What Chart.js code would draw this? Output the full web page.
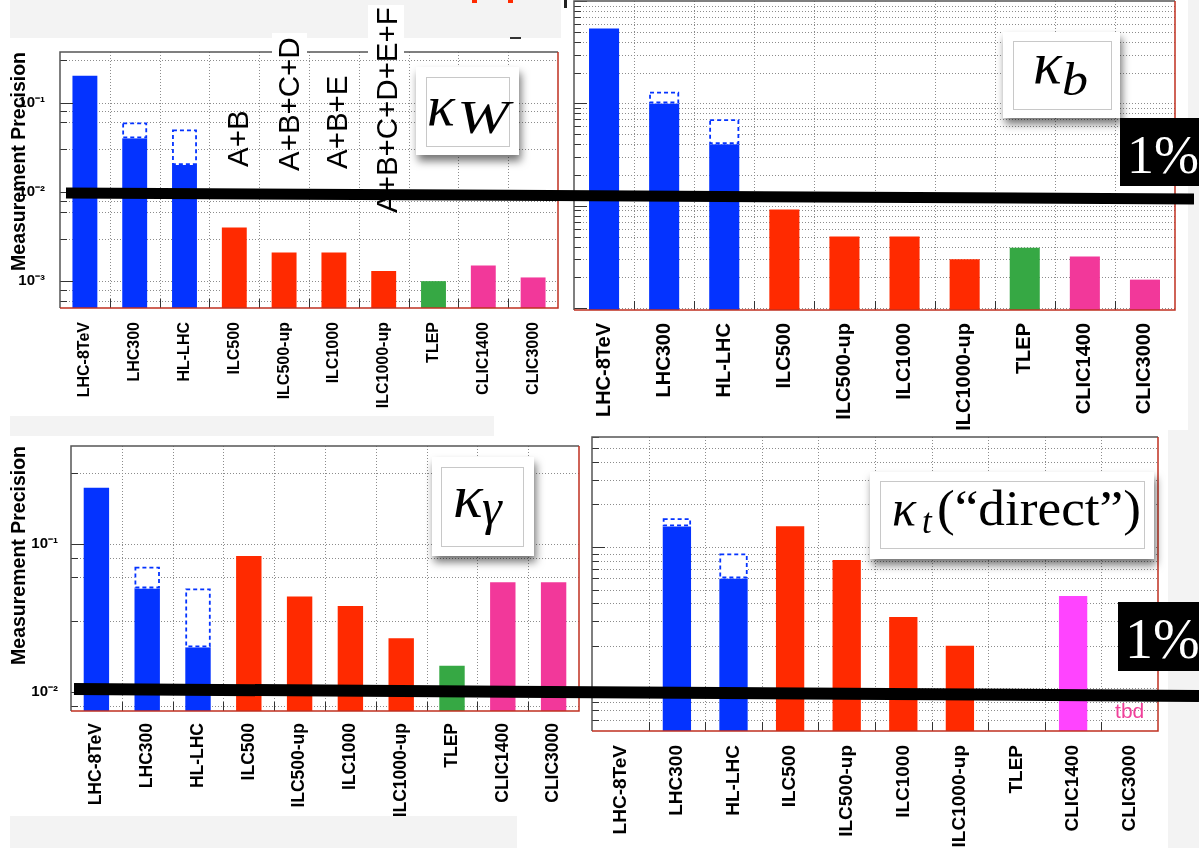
<!DOCTYPE html>
<html><head><meta charset="utf-8">
<script src="https://cdn.jsdelivr.net/npm/chart.js@4.4.1/dist/chart.umd.min.js"></script>
<style>
html,body{margin:0;padding:0;background:#fff;}
body{width:1199px;height:848px;position:relative;overflow:hidden;}
.g{position:absolute;background:#f3f3f3;}
canvas{position:absolute;}
svg{position:absolute;left:0;top:0;}
</style></head><body>
<div class="g" style="left:10px;top:0;width:551px;height:38px"></div>
<div class="g" style="left:10px;top:416px;width:484px;height:20px"></div>
<div class="g" style="left:10px;top:816px;width:507px;height:32px"></div>
<div class="g" style="left:1168px;top:430px;width:31px;height:418px"></div>
<div class="g" style="left:1188px;top:0;width:11px;height:430px"></div>

<canvas id="cW" width="570" height="380" style="left:0;top:50px"></canvas>
<canvas id="cB" width="637" height="440" style="left:562px;top:0"></canvas>
<canvas id="cG" width="590" height="380" style="left:0;top:436px"></canvas>
<canvas id="cT" width="617" height="418" style="left:582px;top:430px"></canvas>

<svg width="1199" height="848">
<defs>
<filter id="sh" x="-20%" y="-20%" width="150%" height="170%">
<feDropShadow dx="2" dy="6" stdDeviation="4" flood-color="#000" flood-opacity="0.55"/>
</filter>
</defs>
<!-- top fragments -->
<rect x="472" y="0" width="5" height="3" fill="#ff2a00"/>
<rect x="508" y="0" width="5" height="3" fill="#ff2a00"/>
<rect x="510" y="37" width="11" height="2" fill="#333"/>
<rect x="564" y="0" width="3" height="8" fill="#222"/>
<!-- white boxes behind combination labels -->
<rect x="272" y="33" width="35" height="24" fill="#fff"/>
<rect x="368" y="5" width="36" height="52" fill="#fff"/>
<g font-family="Liberation Sans, Arial, Helvetica, sans-serif" font-size="29.5" fill="#000">
<text transform="translate(247.5,167) rotate(-90)">A+B</text>
<text transform="translate(298.5,171) rotate(-90)">A+B+C+D</text>
<text transform="translate(346.5,169) rotate(-90)">A+B+E</text>
<text transform="translate(396.5,213) rotate(-90)">A+B+C+D+E+F</text>
</g>

<!-- kappa W -->
<rect x="416" y="67" width="103" height="88" fill="#fff" filter="url(#sh)"/>
<rect x="426.5" y="77.5" width="83" height="69" fill="none" stroke="#c8c8c8"/>
<text x="427" y="125" font-family="Liberation Serif, serif" font-style="italic" font-size="58">κ</text>
<text x="457" y="133" font-family="Liberation Serif, serif" font-style="italic" font-size="47" textLength="52" lengthAdjust="spacingAndGlyphs">W</text>

<!-- kappa b -->
<rect x="1003" y="32" width="117" height="86" fill="#fff" filter="url(#sh)"/>
<rect x="1013.5" y="41.5" width="98" height="68" fill="none" stroke="#c8c8c8"/>
<text x="1033" y="83" font-family="Liberation Serif, serif" font-style="italic" font-size="60">κ</text>
<text x="1062" y="95" font-family="Liberation Serif, serif" font-style="italic" font-size="47" textLength="26" lengthAdjust="spacingAndGlyphs">b</text>

<!-- kappa gamma -->
<rect x="432" y="457" width="102" height="99" fill="#fff" filter="url(#sh)"/>
<rect x="441.5" y="467.5" width="82" height="79" fill="none" stroke="#c8c8c8"/>
<text x="453" y="517" font-family="Liberation Serif, serif" font-style="italic" font-size="62">κ</text>
<text x="482" y="524" font-family="Liberation Serif, serif" font-style="italic" font-size="50">γ</text>

<!-- kappa t -->
<rect x="870" y="472" width="284" height="87" fill="#fff" filter="url(#sh)"/>
<rect x="880.5" y="481.5" width="264" height="67" fill="none" stroke="#c8c8c8"/>
<text x="892" y="525" font-family="Liberation Serif, serif" font-style="italic" font-size="50">κ</text>
<text x="922" y="533" font-family="Liberation Serif, serif" font-style="italic" font-size="35">t</text>
<text x="937" y="525" font-family="Liberation Serif, serif" font-size="50" textLength="204" lengthAdjust="spacingAndGlyphs">(“direct”)</text>

<!-- 1% markers -->
<rect x="1120" y="118" width="79" height="68" fill="#000"/>
<text x="1127" y="173" font-family="Liberation Serif, serif" font-size="54" fill="#fff">1%</text>
<rect x="1118" y="602" width="81" height="69" fill="#000"/>
<text x="1125" y="658" font-family="Liberation Serif, serif" font-size="56" fill="#fff">1%</text>

<!-- 1% lines -->
<line x1="66" y1="193" x2="1194" y2="199" stroke="#000" stroke-width="11"/>
<line x1="74" y1="689" x2="1199" y2="696" stroke="#000" stroke-width="12"/>
</svg>

<script>
// ---------------- data ----------------
const categories = ['LHC-8TeV','LHC300','HL-LHC','ILC500','ILC500-up','ILC1000','ILC1000-up','TLEP','CLIC1400','CLIC3000'];
const barColors    = ['#0433ff','#0433ff','#0433ff','#ff2a00','#ff2a00','#ff2a00','#ff2a00','#36a844','#f2389a','#f2389a'];
const barColorsTop = ['#0433ff','#0433ff','#0433ff','#ff2a00','#ff2a00','#ff2a00','#ff2a00','#36a844','#ff44ff','#f2389a'];

const kW       = [0.20, 0.040, 0.020, 0.0040, 0.0021, 0.0021, 0.0013, 0.0010, 0.0015, 0.0011];
const kWUpper  = [null, 0.060, 0.050, null, null, null, null, null, null, null];
const kb       = [0.54, 0.10, 0.040, 0.0092, 0.0050, 0.0050, 0.0030, 0.0039, 0.0032, 0.0019];
const kbUpper  = [null, 0.13, 0.070, null, null, null, null, null, null, null];
const kGamma      = [0.24, 0.050, 0.020, 0.083, 0.044, 0.038, 0.023, 0.015, 0.055, 0.055];
const kGammaUpper = [null, 0.070, 0.050, null, null, null, null, null, null, null];
const kTop      = [null, 0.14, 0.060, 0.14, 0.081, 0.032, 0.020, null, 0.045, null];
const kTopUpper = [null, 0.16, 0.090, null, null, null, null, null, null, null];
const kTopNotes = [null, null, null, null, null, null, null, null, null, 'tbd'];

const yTickValues = [0.001, 0.01, 0.1];
const yTickLabels = ['10⁻³', '10⁻²', '10⁻¹'];
const yTitle = 'Measurement Precision';

// --------------- style ----------------
Chart.defaults.font.family = '"Liberation Sans", Arial, Helvetica, sans-serif';
Chart.defaults.color = '#000';
const BLUE = '#0433ff';

function logGrid(min, max) {
  const t = [];
  for (let e = Math.floor(Math.log10(min)); e <= Math.ceil(Math.log10(max)); e++) {
    for (let k = 1; k <= 9; k++) {
      const v = +(k * Math.pow(10, e)).toPrecision(6);
      if (v >= min * 0.9999 && v <= max * 1.0001) t.push(v);
    }
  }
  return t;
}
function isMajor(v) { const e = Math.log10(v); return Math.abs(e - Math.round(e)) < 1e-6; }

const rootStyle = {
  id: 'rootStyle',
  beforeDatasetsDraw(chart) {
    const {ctx, chartArea: a, scales: {x, y}} = chart;
    ctx.save();
    ctx.strokeStyle = '#8c8c8c'; ctx.lineWidth = 1; ctx.setLineDash([1, 2]);
    y.ticks.forEach(t => {
      const py = Math.round(y.getPixelForValue(t.value)) + 0.5;
      if (py < a.top + 1.5 || py > a.bottom - 1.5) return;
      ctx.beginPath(); ctx.moveTo(a.left, py); ctx.lineTo(a.right, py); ctx.stroke();
    });
    for (let i = 1; i < categories.length; i++) {
      const px = Math.round((x.getPixelForValue(i - 1) + x.getPixelForValue(i)) / 2) + 0.5;
      ctx.beginPath(); ctx.moveTo(px, a.top); ctx.lineTo(px, a.bottom); ctx.stroke();
    }
    ctx.restore();
  },
  afterDatasetsDraw(chart) {
    const {ctx, chartArea: a, scales: {x, y}} = chart;
    chart.data.datasets.forEach((ds, i) => {
      const meta = chart.getDatasetMeta(i);
      if (ds.dashedBox) {
        meta.data.forEach((el, j) => {
          if (ds.data[j] == null) return;
          const p = el.getProps(['x', 'y', 'base', 'width'], true);
          const t = Math.min(p.y, p.base), b = Math.max(p.y, p.base);
          ctx.save();
          ctx.strokeStyle = BLUE; ctx.lineWidth = 1.8; ctx.setLineDash([4, 3]);
          ctx.strokeRect(p.x - p.width / 2 + 0.9, t + 0.9, p.width - 1.8, b - t - 1.8);
          ctx.restore();
        });
      }
      if (ds.notes) {
        ds.notes.forEach((n, j) => {
          if (!n) return;
          ctx.save();
          ctx.fillStyle = '#f0409a'; ctx.font = '21px "Liberation Sans", Arial, sans-serif';
          ctx.textAlign = 'center'; ctx.textBaseline = 'alphabetic';
          ctx.fillText(n, x.getPixelForValue(j), a.bottom - 13);
          ctx.restore();
        });
      }
    });
    ctx.save();
    ctx.strokeStyle = '#333'; ctx.lineWidth = 1;
    y.ticks.forEach(t => {
      const py = Math.round(y.getPixelForValue(t.value)) + 0.5;
      if (py < a.top || py > a.bottom) return;
      const len = isMajor(t.value) ? 13 : 7;
      ctx.beginPath(); ctx.moveTo(a.left, py); ctx.lineTo(a.left + len, py); ctx.stroke();
    });
    for (let i = 1; i < categories.length; i++) {
      const px = Math.round((x.getPixelForValue(i - 1) + x.getPixelForValue(i)) / 2) + 0.5;
      ctx.beginPath(); ctx.moveTo(px, a.bottom); ctx.lineTo(px, a.bottom - 9); ctx.stroke();
    }
    ctx.lineWidth = 1.5;
    ctx.strokeStyle = '#555';
    ctx.beginPath(); ctx.moveTo(a.left, a.bottom); ctx.lineTo(a.left, a.top); ctx.lineTo(a.right, a.top); ctx.stroke();
    ctx.strokeStyle = '#c03020';
    ctx.beginPath(); ctx.moveTo(a.right, a.top); ctx.lineTo(a.right, a.bottom); ctx.lineTo(a.left, a.bottom); ctx.stroke();
    ctx.restore();
  }
};

function makePanel(id, p) {
  const floating = p.upper.map((u, i) => u == null ? null : [p.values[i], u]);
  new Chart(document.getElementById(id), {
    type: 'bar',
    data: {
      labels: categories,
      datasets: [
        {data: floating, backgroundColor: '#ffffff', borderWidth: 0, grouped: false, order: 0,
         barPercentage: 0.5, categoryPercentage: 1, dashedBox: true},
        {data: p.values, backgroundColor: p.colors, borderWidth: 0, grouped: false, order: 1,
         barPercentage: 0.5, categoryPercentage: 1, notes: p.notes || null}
      ]
    },
    options: {
      responsive: false, animation: false, devicePixelRatio: 1,
      layout: {padding: p.pad},
      plugins: {legend: {display: false}, tooltip: {enabled: false}},
      scales: {
        x: {
          grid: {display: false}, border: {display: false},
          ticks: {autoSkip: false, minRotation: 90, maxRotation: 90, padding: p.xPad,
                  font: {size: p.xFont, weight: 'bold'}, color: '#000'},
          afterFit(s) { s.height = p.xH; s.paddingLeft = 0; s.paddingRight = 0; }
        },
        y: {
          type: 'logarithmic', min: p.min, max: p.max,
          grid: {display: false}, border: {display: false},
          afterBuildTicks(s) { s.ticks = logGrid(p.min, p.max).map(v => ({value: v, major: isMajor(v)})); },
          ticks: {display: p.yLabels, padding: p.yPad, font: {size: 15, weight: 'bold'}, color: '#000',
                  callback(v) {
                    const k = yTickValues.findIndex(t => Math.abs(t - v) / t < 1e-6);
                    return k >= 0 ? yTickLabels[k] : '';
                  }},
          title: {display: p.yLabels, text: yTitle, align: 'end', color: '#000',
                  font: {size: 19.5, weight: 'bold'}, padding: {top: 8, bottom: 0}},
          afterFit(s) { s.width = p.yW; s.paddingTop = 0; s.paddingBottom = 0; }
        }
      }
    },
    plugins: [rootStyle]
  });
}

makePanel('cW', {values: kW, upper: kWUpper, colors: barColors, min: 5e-4, max: 0.37,
  pad: {left: 0, right: 12, top: 2, bottom: 0}, yW: 60, xH: 122, xPad: 6, xFont: 16, yLabels: true, yPad: 7});
makePanel('cB', {values: kb, upper: kbUpper, colors: barColors, min: 0.00096, max: 1.0,
  pad: {left: 0, right: 24, top: 1, bottom: 0}, yW: 12, xH: 130, xPad: 5, xFont: 20, yLabels: false, yPad: 0});
makePanel('cG', {values: kGamma, upper: kGammaUpper, colors: barColors, min: 0.0074, max: 0.46,
  pad: {left: 0, right: 11, top: 10, bottom: 0}, yW: 71, xH: 105, xPad: 4, xFont: 17.5, yLabels: true, yPad: 5});
makePanel('cT', {values: kTop, upper: kTopUpper, colors: barColorsTop, notes: kTopNotes, min: 0.005, max: 0.6,
  pad: {left: 0, right: 41, top: 7, bottom: 0}, yW: 10, xH: 117, xPad: 6, xFont: 19, yLabels: false, yPad: 0});
</script>
</body></html>
